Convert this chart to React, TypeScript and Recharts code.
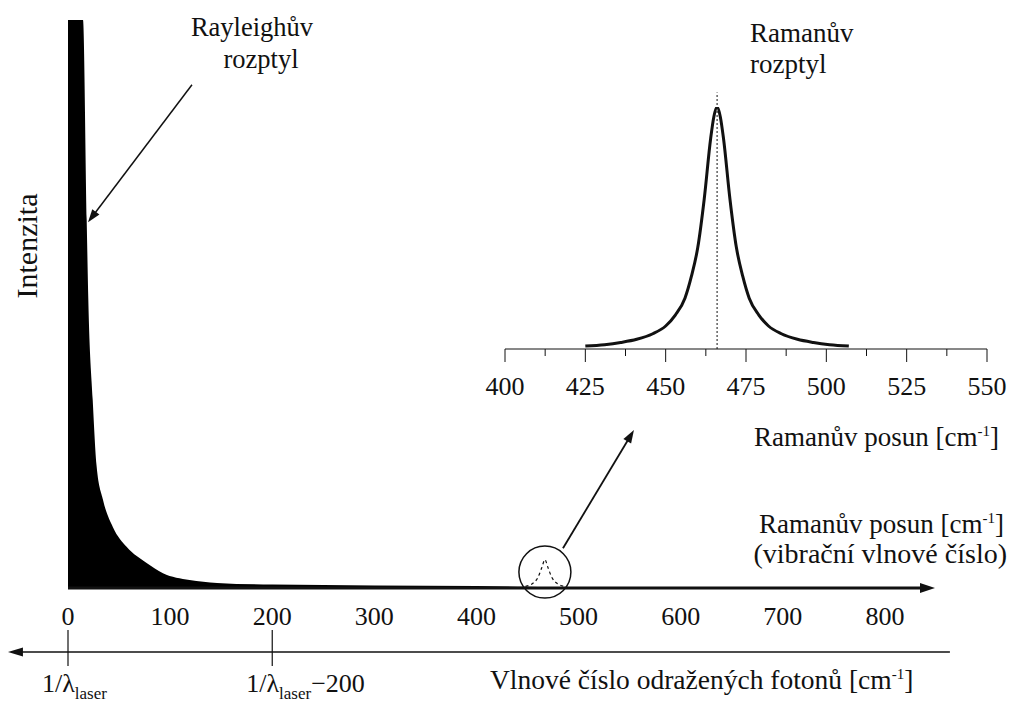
import {
  ComposedChart,
  LineChart,
  Area,
  Line,
  XAxis,
  YAxis,
  ReferenceLine,
  ReferenceDot,
} from "recharts";

// Rayleigh scattering (black filled), x = Raman shift [cm-1], intensity in % of max
const rayleighShift = [0, 14.7, 18.3, 19.9, 24.2, 28.1, 34.3, 44, 57.6, 77, 93, 119, 146, 200, 300, 400, 450, 490];
const rayleighIntensity = [100, 100, 64.8, 50.7, 33.1, 21.3, 15.5, 10.7, 7.2, 4.4, 2.6, 1.4, 0.9, 0.6, 0.45, 0.35, 0.2, 0];

// small dashed Raman peak inside the circle
const smallShift = [448, 455, 460, 464, 467, 470, 474, 479, 486];
const smallIntensity = [0.3, 0.8, 1.8, 3.6, 5, 3.6, 1.8, 0.8, 0.3];

// zoomed Raman band (inset)
const ramanShift = [425, 431, 436, 441, 446, 450, 453, 456, 458, 460, 462, 464, 465, 466, 467, 468, 470, 472, 474, 476, 479, 482, 486, 491, 496, 501, 507];
const ramanIntensity = [1.2, 1.8, 2.7, 4, 6.3, 9.5, 14, 21, 30, 42, 62, 87, 96, 100, 96, 87, 62, 42, 30, 21, 14, 9.5, 6.3, 4, 2.7, 1.8, 1.2];

const mainTicks = [0, 100, 200, 300, 400, 500, 600, 700, 800];
const lowerTicks = [0, 200];
const insetTicks = [400, 412.5, 425, 437.5, 450, 462.5, 475, 487.5, 500, 512.5, 525, 537.5, 550];
const ramanCenter = 466;

const rayleighData = rayleighShift.map((x, i) => ({ x, i: rayleighIntensity[i] }));
const smallData = smallShift.map((x, i) => ({ x, i: smallIntensity[i] }));
const ramanData = ramanShift.map((x, i) => ({ x, i: ramanIntensity[i] }));

const FONT = "'Liberation Serif', 'Times New Roman', Times, serif";
const INK = "#111";
const txt = { fontFamily: FONT, fill: INK } as const;

function Arrow(props: any) {
  const { x1, y1, x2, y2, w = 1.5, len = 12, half = 4 } = props;
  const dx = x2 - x1;
  const dy = y2 - y1;
  const d = Math.sqrt(dx * dx + dy * dy) || 1;
  const ux = dx / d;
  const uy = dy / d;
  const bx = x2 - ux * len;
  const by = y2 - uy * len;
  const pts = `${x2},${y2} ${bx - uy * half},${by + ux * half} ${bx + uy * half},${by - ux * half}`;
  return (
    <g>
      <line x1={x1} y1={y1} x2={bx + ux * 2} y2={by + uy * 2} stroke={INK} strokeWidth={w} />
      <polygon points={pts} fill={INK} />
    </g>
  );
}

function MainTick({ x, y, payload }: any) {
  return (
    <text x={x} y={y + 37} textAnchor="middle" fontSize={26} style={txt}>
      {payload.value}
    </text>
  );
}

function LowerTick({ x, y, payload }: any) {
  return (
    <g>
      <line x1={x} x2={x} y1={y + 2} y2={y + 38} stroke={INK} strokeWidth={1.2} />
      <text x={x - 26} y={y + 64} fontSize={26} style={txt}>
        1/λ
        <tspan fontSize={17} dy={7}>laser</tspan>
        {payload.value !== 0 && <tspan dy={-7}>−{payload.value}</tspan>}
      </text>
    </g>
  );
}

function InsetTick({ x, y, payload }: any) {
  const major = payload.value % 25 === 0;
  return (
    <g>
      <line x1={x} x2={x} y1={y} y2={y + (major ? 13 : 7)} stroke={INK} strokeWidth={1} />
      {major && (
        <text x={x} y={y + 46} textAnchor="middle" fontSize={26} style={txt}>
          {payload.value}
        </text>
      )}
    </g>
  );
}

function CmUnit({ label }: { label: string }) {
  return (
    <>
      {label} [cm
      <tspan fontSize={15} dy={-10}>-1</tspan>
      <tspan dy={10}>]</tspan>
    </>
  );
}

export default function App() {
  return (
    <div style={{ position: "absolute", left: 0, top: 0, width: 1012, height: 702, background: "#fff", fontFamily: FONT }}>
      <ComposedChart width={1012} height={702} margin={{ top: 20, right: 77, left: 68, bottom: 0 }}>
        <XAxis
          xAxisId="b"
          type="number"
          dataKey="x"
          domain={[0, 849]}
          ticks={lowerTicks}
          allowDataOverflow
          axisLine={false}
          tickLine={false}
          tickSize={0}
          tickMargin={0}
          height={74}
          tick={<LowerTick />}
          interval={0}
        />
        <XAxis
          xAxisId="a"
          type="number"
          dataKey="x"
          domain={[0, 849]}
          ticks={mainTicks}
          allowDataOverflow
          axisLine={false}
          tickLine={false}
          tickSize={0}
          tickMargin={0}
          height={40}
          tick={<MainTick />}
          interval={0}
        />
        <YAxis type="number" domain={[0, 100]} hide allowDataOverflow />
        <Area
          xAxisId="a"
          data={rayleighData}
          dataKey="i"
          type="monotone"
          fill="#000"
          fillOpacity={1}
          stroke="none"
          isAnimationActive={false}
        />
        <Line
          xAxisId="a"
          data={smallData}
          dataKey="i"
          type="monotone"
          stroke={INK}
          strokeWidth={1.2}
          strokeDasharray="3 3"
          dot={false}
          isAnimationActive={false}
        />
        <ReferenceDot xAxisId="a" x={467} y={2.8} r={26} fill="none" stroke={INK} strokeWidth={1.5} ifOverflow="visible" />
        <ReferenceLine
          xAxisId="a"
          segment={[{ x: 0, y: 0 }, { x: 849, y: 0 }]}
          ifOverflow="visible"
          shape={(p: any) => <Arrow {...p} w={3} len={15} half={5} />}
        />
        <ReferenceLine
          xAxisId="a"
          segment={[{ x: 863.6, y: -11.27 }, { x: -58.8, y: -11.27 }]}
          ifOverflow="visible"
          shape={(p: any) => <Arrow {...p} w={1.5} len={15} half={4.5} />}
        />
        <ReferenceLine
          xAxisId="a"
          segment={[{ x: 121.4, y: 88.6 }, { x: 19.6, y: 64.4 }]}
          ifOverflow="visible"
          shape={(p: any) => <Arrow {...p} w={1.5} len={13} half={4.5} />}
        />
        <ReferenceLine
          xAxisId="a"
          segment={[{ x: 484.7, y: 7.0 }, { x: 554.2, y: 27.8 }]}
          ifOverflow="visible"
          shape={(p: any) => <Arrow {...p} w={1.8} len={13} half={4.5} />}
        />
        <text x={252} y={36} textAnchor="middle" fontSize={26.5} style={txt}>Rayleighův</text>
        <text x={261} y={68} textAnchor="middle" fontSize={26.5} style={txt}>rozptyl</text>
        <text x={750} y={42} fontSize={27} style={txt}>Ramanův</text>
        <text x={750} y={73} fontSize={27} style={txt}>rozptyl</text>
        <text x={37} y={246} transform="rotate(-90 37 246)" textAnchor="middle" fontSize={30} style={txt}>
          Intenzita
        </text>
        <text x={1004} y={533} textAnchor="end" fontSize={27} style={txt}>
          <CmUnit label="Ramanův posun" />
        </text>
        <text x={1007} y={563} textAnchor="end" fontSize={28} style={txt}>
          (vibrační vlnové číslo)
        </text>
        <text x={490} y={689} fontSize={27.5} style={txt}>
          <CmUnit label="Vlnové číslo odražených fotonů" />
        </text>
      </ComposedChart>

      <div style={{ position: "absolute", left: 480, top: 80 }}>
        <LineChart width={532} height={380} data={ramanData} margin={{ top: 27, right: 25, left: 25, bottom: 60 }}>
          <XAxis
            type="number"
            dataKey="x"
            domain={[400, 550]}
            ticks={insetTicks}
            interval={0}
            axisLine={{ stroke: INK, strokeWidth: 1 }}
            tickLine={false}
            tickSize={0}
            tickMargin={0}
            height={51}
            tick={<InsetTick />}
          />
          <YAxis type="number" domain={[0, 100]} hide allowDataOverflow />
          <ReferenceLine
            segment={[{ x: ramanCenter, y: 0 }, { x: ramanCenter, y: 106 }]}
            ifOverflow="visible"
            stroke={INK}
            strokeWidth={1}
            strokeDasharray="2 2"
          />
          <Line
            dataKey="i"
            type="monotone"
            stroke={INK}
            strokeWidth={3}
            dot={false}
            isAnimationActive={false}
          />
          <text x={519} y={366} textAnchor="end" fontSize={27} style={txt}>
            <CmUnit label="Ramanův posun" />
          </text>
        </LineChart>
      </div>
    </div>
  );
}
